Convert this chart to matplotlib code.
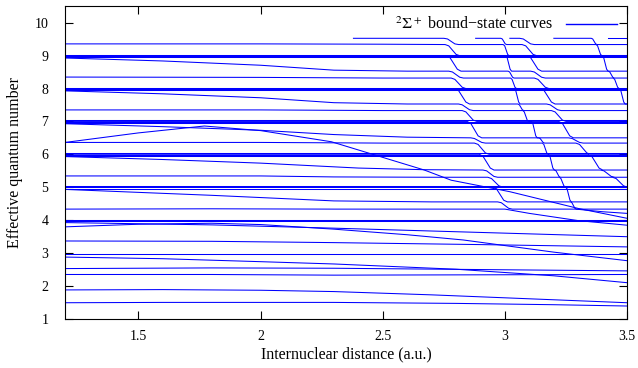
import matplotlib
matplotlib.use("Agg")
import matplotlib.pyplot as plt

# flat high-l levels (the thick bands just at the integers)
band_levels = [9.03, 8.99, 8.96, 8.02, 7.99, 7.96, 7.03, 6.99, 6.96,
               6.03, 5.99, 5.96, 5.02, 4.99, 4.95, 4.0, 3.96, 2.97]

# lower curves
low1_x = [1.2, 1.6, 2.0, 2.3, 2.8, 3.2, 3.5]
low1_y = [1.48, 1.49, 1.49, 1.49, 1.46, 1.42, 1.38]
low2_x = [1.2, 1.6, 2.0, 2.3, 2.7, 3.1, 3.5]
low2_y = [1.87, 1.88, 1.86, 1.82, 1.72, 1.60, 1.48]
low3_x = [1.2, 1.8, 2.3, 2.9, 3.5]
low3_y = [2.34, 2.34, 2.32, 2.33, 2.34]
low4_x = [1.2, 1.8, 2.3, 2.9, 3.5]
low4_y = [2.52, 2.54, 2.53, 2.49, 2.45]
d3_x = [1.2, 1.6, 2.0, 2.3, 2.8, 3.2, 3.5]
d3_y = [2.87, 2.82, 2.73, 2.66, 2.50, 2.30, 2.09]
u3_x = [1.2, 1.8, 2.3, 2.9, 3.5]
u3_y = [3.36, 3.35, 3.31, 3.25, 3.18]
i2_x = [1.2, 1.5, 1.8, 2.0, 2.3, 2.6, 2.83, 3.2, 3.5]
i2_y = [3.79, 3.87, 3.90, 3.86, 3.72, 3.55, 3.39, 3.02, 2.76]
d4_x = [1.2, 1.8, 2.3, 2.9, 3.5]
d4_y = [3.92, 3.85, 3.75, 3.62, 3.49]
u4_x = [1.2, 1.8, 2.3, 3.0, 3.1, 3.3, 3.5]
u4_y = [4.33, 4.34, 4.33, 4.33, 4.20, 3.98, 3.84]
d5_x = [1.2, 1.8, 2.3, 2.7, 2.97, 2.985, 3.015, 3.03, 3.29, 3.4, 3.5]
d5_y = [4.93, 4.75, 4.58, 4.55, 4.55, 4.525, 4.355, 4.33, 4.33, 4.25, 4.2]

# intruder rising from 6.36 then falling through the manifold
i1_x = [1.2, 1.5, 1.77, 2.0, 2.29, 2.67, 2.78, 3.02, 3.3, 3.5]
i1_y = [6.36, 6.65, 6.86, 6.72, 6.38, 5.52, 5.21, 4.86, 4.35, 4.05]

# curves entering at the top of the window
e1_x = [2.38, 2.75, 2.765, 2.795, 2.81, 2.993, 2.999, 3.011, 3.017,
        3.09, 3.105, 3.135, 3.15, 3.423, 3.429, 3.441, 3.447, 3.5]
e1_y = [9.53, 9.53, 9.51, 9.36, 9.34, 9.34, 9.30, 9.04, 9.0,
        9.0, 8.94, 8.59, 8.53, 8.53, 8.505, 8.345, 8.32, 8.32]
e2_x = [2.88, 2.983, 2.989, 3.001, 3.007, 3.07, 3.085, 3.115, 3.13,
        3.398, 3.404, 3.416, 3.422, 3.5]
e2_y = [9.53, 9.53, 9.51, 9.36, 9.34, 9.34, 9.30, 9.04, 9.0,
        9.0, 8.94, 8.59, 8.53, 8.53]
e3_x = [3.02, 3.06, 3.075, 3.105, 3.12, 3.373, 3.379, 3.391, 3.397, 3.5]
e3_y = [9.53, 9.53, 9.51, 9.36, 9.34, 9.34, 9.30, 9.04, 9.0, 9.0]
e4_x = [3.2, 3.353, 3.359, 3.371, 3.377, 3.5]
e4_y = [9.53, 9.53, 9.51, 9.36, 9.34, 9.34]
e5_x = [3.42, 3.5]
e5_y = [9.53, 9.53]

# Rydberg-like curves stepping down at each avoided crossing
u9_x = [1.2, 2.0, 2.5, 2.755, 2.77, 2.80, 2.815, 3.003, 3.009, 3.021, 3.027,
        3.105, 3.12, 3.15, 3.165, 3.443, 3.449, 3.461, 3.467, 3.5]
u9_y = [9.36, 9.36, 9.35, 9.34, 9.30, 9.04, 9.0, 9.0, 8.94, 8.59, 8.53,
        8.53, 8.505, 8.345, 8.32, 8.32, 8.28, 8.04, 8.0, 8.0]
b9_x = [1.2, 2.76, 2.775, 2.805, 2.82, 3.013, 3.019, 3.031, 3.037,
        3.12, 3.135, 3.165, 3.18, 3.468, 3.474, 3.486, 3.492, 3.5]
b9_y = [9.0, 9.0, 8.94, 8.59, 8.53, 8.53, 8.505, 8.345, 8.32,
        8.32, 8.28, 8.04, 8.0, 8.0, 7.94, 7.59, 7.53, 7.53]
d9_x = [1.2, 1.6, 2.0, 2.3, 2.6, 2.77, 2.785, 2.815, 2.83, 3.023, 3.029, 3.041,
        3.047, 3.145, 3.16, 3.19, 3.205, 3.5]
d9_y = [8.93, 8.84, 8.71, 8.56, 8.53, 8.53, 8.505, 8.345, 8.32, 8.32, 8.28, 8.04,
        8.0, 8.0, 7.94, 7.59, 7.53, 7.53]
u8_x = [1.2, 2.0, 2.5, 2.78, 2.795, 2.825, 2.84, 3.038, 3.044, 3.056, 3.062,
        3.17, 3.185, 3.215, 3.23, 3.5]
u8_y = [8.35, 8.34, 8.32, 8.32, 8.28, 8.04, 8.0, 8.0, 7.94, 7.59, 7.53,
        7.53, 7.505, 7.355, 7.33, 7.33]
b8_x = [1.2, 2.795, 2.81, 2.84, 2.855, 3.053, 3.059, 3.071, 3.077,
        3.19, 3.205, 3.235, 3.25, 3.5]
b8_y = [8.0, 8.0, 7.94, 7.59, 7.53, 7.53, 7.505, 7.355, 7.33,
        7.33, 7.29, 7.04, 7.0, 7.0]
d8_x = [1.2, 1.6, 2.0, 2.3, 2.6, 2.81, 2.825, 2.855, 2.87, 3.073, 3.079, 3.091,
        3.097, 3.22, 3.235, 3.265, 3.28, 3.5]
d8_y = [7.93, 7.84, 7.72, 7.57, 7.53, 7.53, 7.505, 7.355, 7.33, 7.33, 7.29, 7.04,
        7.0, 7.0, 6.94, 6.56, 6.5, 6.5]
u7_x = [1.2, 2.0, 2.5, 2.825, 2.84, 2.87, 2.885, 3.108, 3.114, 3.126, 3.132,
        3.26, 3.275, 3.305, 3.32, 3.5]
u7_y = [7.35, 7.35, 7.33, 7.33, 7.29, 7.04, 7.0, 7.0, 6.94, 6.56, 6.5,
        6.5, 6.48, 6.36, 6.34, 6.34]
b7_x = [1.2, 2.845, 2.86, 2.89, 2.905, 3.138, 3.144, 3.156, 3.162,
        3.29, 3.305, 3.335, 3.35, 3.5]
b7_y = [7.0, 7.0, 6.94, 6.56, 6.5, 6.5, 6.48, 6.36, 6.34,
        6.34, 6.30, 6.04, 6.0, 6.0]
d7_x = [1.2, 1.6, 2.0, 2.3, 2.6, 2.86, 2.875, 2.905, 2.92, 3.153, 3.159, 3.171,
        3.177, 3.34, 3.355, 3.385, 3.4, 3.5]
d7_y = [6.93, 6.84, 6.73, 6.60, 6.52, 6.5, 6.48, 6.36, 6.34, 6.34, 6.30, 6.04,
        6.0, 6.0, 5.94, 5.58, 5.52, 5.52]
u6_x = [1.2, 2.0, 2.5, 2.875, 2.89, 2.92, 2.935, 3.178, 3.184, 3.196, 3.202,
        3.39, 3.405, 3.435, 3.45, 3.5]
u6_y = [6.36, 6.36, 6.34, 6.34, 6.30, 6.04, 6.0, 6.0, 5.94, 5.58, 5.52,
        5.52, 5.495, 5.325, 5.3, 5.3]
b6_x = [1.2, 2.895, 2.91, 2.94, 2.955, 3.203, 3.209, 3.221, 3.227,
        3.44, 3.455, 3.485, 3.5]
b6_y = [6.0, 6.0, 5.94, 5.58, 5.52, 5.52, 5.495, 5.325, 5.3,
        5.3, 5.26, 5.04, 5.0]
d6_x = [1.2, 1.6, 2.0, 2.4, 2.67, 2.91, 2.925, 2.955, 2.97, 3.223, 3.229, 3.241,
        3.247, 3.5]
d6_y = [5.93, 5.84, 5.73, 5.58, 5.53, 5.52, 5.495, 5.325, 5.3, 5.3, 5.26, 5.04,
        5.0, 5.0]
u5_x = [1.2, 2.0, 2.3, 2.7, 2.93, 2.945, 2.975, 2.99, 3.248, 3.254, 3.266,
        3.272, 3.5]
u5_y = [5.34, 5.34, 5.31, 5.3, 5.3, 5.26, 5.04, 5.0, 5.0, 4.95, 4.6,
        4.55, 4.55]
b5_x = [1.2, 2.95, 2.965, 2.995, 3.01, 3.268, 3.274, 3.286, 3.292, 3.5]
b5_y = [5.0, 5.0, 4.95, 4.6, 4.55, 4.55, 4.525, 4.355, 4.33, 4.33]

curves_x = [low1_x, low2_x, low3_x, low4_x, d3_x, u3_x, i2_x, d4_x, u4_x,
            d5_x, i1_x, e1_x, e2_x, e3_x, e4_x, e5_x,
            u9_x, b9_x, d9_x, u8_x, b8_x, d8_x, u7_x, b7_x, d7_x,
            u6_x, b6_x, d6_x, u5_x, b5_x]
curves_y = [low1_y, low2_y, low3_y, low4_y, d3_y, u3_y, i2_y, d4_y, u4_y,
            d5_y, i1_y, e1_y, e2_y, e3_y, e4_y, e5_y,
            u9_y, b9_y, d9_y, u8_y, b8_y, d8_y, u7_y, b7_y, d7_y,
            u6_y, b6_y, d6_y, u5_y, b5_y]

plt.rcParams["font.family"] = ["Liberation Serif", "DejaVu Serif"]
plt.rcParams["mathtext.fontset"] = "stix"

fig = plt.figure(figsize=(6.38, 3.68), dpi=100)
ax = fig.add_axes([0.102, 0.1345, 0.881, 0.848])

blue = "#0000ff"
lw = 0.75
for v in band_levels:
    ax.axhline(v, color=blue, lw=lw)

for i, (xs, ys) in enumerate(zip(curves_x, curves_y)):
    ax.plot(xs, ys, color=blue, lw=lw,
            label="$^2\\Sigma^+$ bound\u2212state curves" if i == 0 else None)

ax.set_xlim(1.2, 3.5)
ax.set_ylim(1, 10.5)
ax.set_xticks([1.5, 2, 2.5, 3, 3.5])
ax.set_xticklabels(["1.5", "2", "2.5", "3", "3.5"])
ax.set_yticks(range(1, 11))
ax.tick_params(direction="in", length=6, top=True, right=True, labelsize=10)
ax.tick_params(axis="x", pad=8)
ax.tick_params(axis="y", pad=12)
ax.set_xlabel("Internuclear distance (a.u.)", fontsize=11.5, labelpad=3)
ax.set_ylabel("Effective quantum number", fontsize=11.5, labelpad=8)
leg = ax.legend(loc="upper right", frameon=False, markerfirst=False, fontsize=11.5,
                handlelength=3.2, borderaxespad=0.25)
leg.get_lines()[0].set_color(blue)
leg.get_lines()[0].set_linewidth(1.0)

fig.savefig("out.png", dpi=100)
